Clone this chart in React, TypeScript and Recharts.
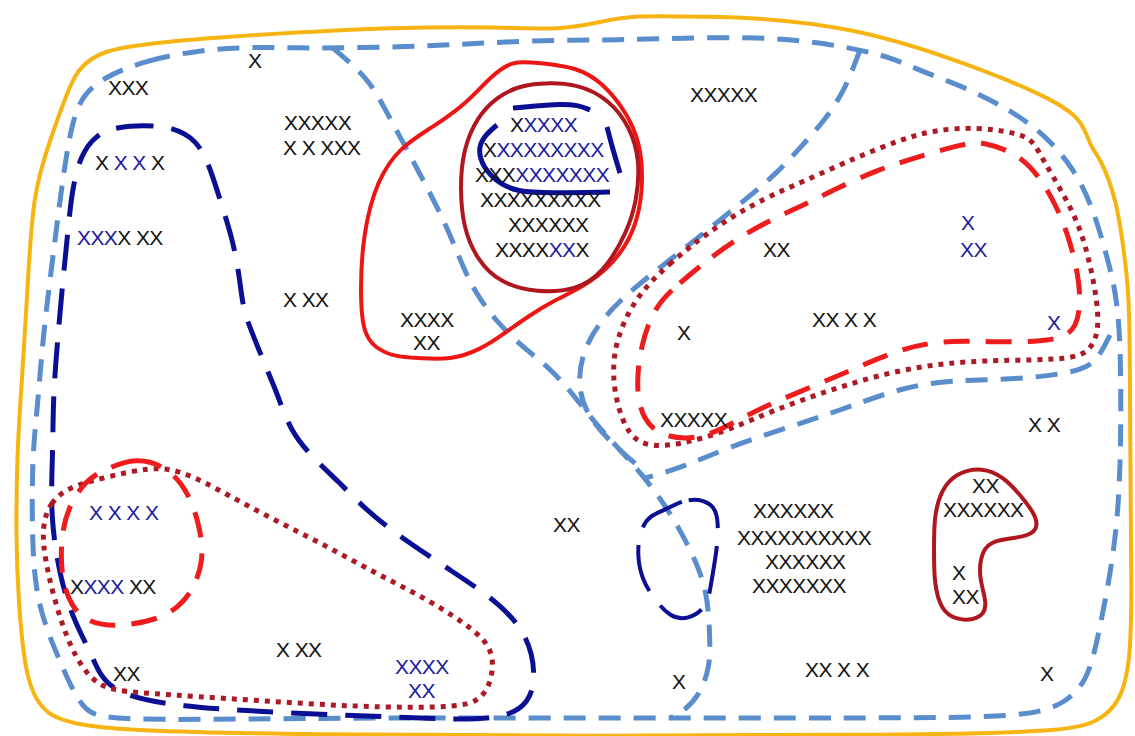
import React from "react";
import { ComposedChart, Line, Scatter, XAxis, YAxis } from "recharts";

const W = 1135;
const H = 736;

const BLACK = "#141414";
const BLUE = "#1c1c9c";

// outlines, [x, y] in picture pixels
const yellowOuter = [
  [100, 50], [160, 42], [250, 35], [400, 27], [500, 27], [560, 30], [600, 22], [633, 15],
  [700, 17], [750, 17], [850, 27], [950, 57], [1050, 97], [1083, 120], [1090, 147], [1100, 157],
  [1117, 200], [1125, 260], [1130, 300], [1130, 450], [1132, 600], [1130, 663], [1121, 700],
  [1100, 722], [1060, 732], [900, 735], [600, 736], [300, 735], [120, 730], [89, 726], [46, 718],
  [25, 682], [18, 593], [16, 540], [17, 450], [22, 380], [28, 280], [33, 193], [50, 140], [67, 93], [77, 70],
];

const lightBlueOuter = [
  [103, 77], [147, 60], [200, 50], [250, 47], [300, 48], [333, 48], [400, 47], [450, 45], [500, 42],
  [560, 40], [620, 40], [680, 38], [760, 37], [817, 42], [860, 50], [890, 57], [923, 72], [967, 88],
  [1010, 110], [1043, 133], [1073, 167], [1093, 207], [1110, 267], [1117, 300], [1121, 350],
  [1121, 470], [1115, 550], [1099, 633], [1088, 680], [1066, 703], [1029, 717], [900, 718],
  [700, 718], [500, 718], [300, 718], [107, 721], [82, 711], [61, 664], [39, 611], [32, 557],
  [32, 457], [37, 413], [43, 337], [50, 280], [60, 200], [67, 150], [77, 100],
];

const lightBlueA = [
  [333, 48], [367, 77], [383, 105], [407, 150], [427, 187], [447, 227], [463, 267], [475, 292],
  [495, 320], [520, 345], [550, 368], [572, 393], [595, 423], [620, 450], [645, 478], [665, 505],
  [683, 535], [700, 570], [708, 600], [710, 640], [710, 667], [699, 697], [681, 713], [670, 718],
];

const lightBlueB = [
  [860, 50], [845, 90], [825, 120], [800, 148], [775, 175], [745, 200], [705, 232], [670, 260],
  [635, 287], [605, 315], [585, 345], [577, 380], [585, 413], [610, 442], [645, 472],
];

const lightBlueC = [
  [1110, 335], [1100, 355], [1087, 370], [1035, 378], [979, 380], [930, 382], [886, 393],
  [841, 410], [789, 427], [729, 447], [681, 468], [645, 478],
];

const navyBig = [
  [95, 135], [117, 127], [143, 125], [173, 127], [197, 140], [210, 167], [220, 200], [233, 240],
  [240, 280], [243, 310], [255, 340], [265, 365], [277, 393], [290, 430], [310, 455], [340, 483],
  [363, 507], [393, 532], [450, 570], [500, 603], [529, 637], [536, 677], [529, 703], [507, 717],
  [464, 720], [393, 717], [286, 713], [179, 707], [107, 693], [93, 657], [75, 623], [61, 583],
  [50, 517], [53, 450], [53, 400], [57, 347], [62, 290], [67, 240], [70, 210], [73, 187], [80, 157],
];

const redLoop = [
  [513, 60], [537, 63], [577, 67], [603, 83], [627, 113], [640, 143], [643, 177], [640, 210],
  [630, 240], [610, 267], [583, 287], [555, 300], [530, 315], [505, 333], [480, 350], [450, 360],
  [420, 358], [395, 357], [375, 348], [363, 333], [360, 293], [363, 233], [377, 180], [400, 147],
  [433, 127], [467, 103], [490, 77],
];

const darkRedCircle = [
  [537, 83], [577, 83], [610, 100], [630, 127], [640, 160], [637, 200], [627, 233], [603, 273],
  [577, 290], [537, 293], [500, 283], [477, 260], [463, 227], [460, 187], [463, 150], [477, 117],
  [497, 97], [517, 87],
];

const navyTopBar = [[513, 108], [535, 106], [560, 104], [578, 105], [590, 110]];
const navyRightBar = [[607, 127], [613, 150], [620, 173]];
const navyHook = [
  [497, 125], [483, 137], [478, 150], [483, 167], [497, 182], [517, 192], [550, 193], [610, 192],
];

const redDashedRight = [
  [655, 305], [680, 283], [705, 262], [735, 240], [770, 220], [800, 207], [833, 190], [877, 170],
  [917, 157], [967, 143], [983, 142], [1017, 153], [1040, 177], [1057, 207], [1070, 240],
  [1080, 283], [1080, 313], [1072, 337], [1035, 342], [990, 342], [942, 340], [897, 350],
  [852, 370], [811, 387], [763, 407], [733, 423], [699, 440], [662, 437], [643, 420], [636, 390],
  [640, 347],
];

const dottedRight = [
  [633, 300], [667, 265], [717, 225], [767, 197], [800, 183], [857, 157], [900, 140], [933, 130],
  [977, 127], [1017, 133], [1033, 140], [1043, 160], [1063, 193], [1080, 227], [1090, 263],
  [1097, 300], [1099, 330], [1091, 350], [1072, 360], [998, 360], [942, 363], [886, 373],
  [830, 390], [774, 410], [729, 430], [681, 445], [643, 447], [625, 430], [613, 390], [613, 347],
];

const redDashedLeft = [
  [104, 470], [136, 457], [168, 467], [189, 493], [200, 527], [204, 560], [193, 590], [179, 607],
  [157, 620], [118, 627], [89, 623], [71, 607], [61, 577], [61, 537], [68, 507], [86, 480],
];

const dottedLeft = [
  [43, 523], [50, 503], [68, 487], [107, 477], [150, 467], [179, 470], [214, 487], [268, 517],
  [321, 543], [375, 573], [429, 600], [475, 630], [493, 650], [493, 677], [482, 700], [457, 708],
  [357, 707], [250, 700], [143, 693], [107, 690], [89, 677], [71, 650], [54, 600], [43, 550],
];

const navySmall = [
  [666, 510], [688, 497], [714, 503], [718, 520], [718, 540], [714, 567], [710, 590], [707, 607],
  [688, 620], [670, 617], [655, 600], [642, 580], [637, 555], [640, 530], [650, 515],
];

const mushroom = [
  [956, 473], [982, 467], [1004, 477], [1022, 497], [1037, 517], [1037, 530], [1026, 537],
  [993, 540], [982, 550], [978, 577], [989, 607], [978, 620], [956, 620], [941, 610], [934, 583],
  [934, 550], [934, 517], [941, 490],
];

// labels: left x, baseline y, runs of [text, colour key]
type Run = [string, "k" | "b"];
const labels: { x: number; y: number; runs: Run[] }[] = [
  { x: 108, y: 95, runs: [["XXX", "k"]] },
  { x: 248, y: 68, runs: [["X", "k"]] },
  { x: 284, y: 130, runs: [["XXXXX", "k"]] },
  { x: 283, y: 155, runs: [["X X XXX", "k"]] },
  { x: 95, y: 170, runs: [["X ", "k"], ["X X", "b"], [" X", "k"]] },
  { x: 77, y: 245, runs: [["XXX", "b"], ["X XX", "k"]] },
  { x: 283, y: 307, runs: [["X XX", "k"]] },
  { x: 400, y: 327, runs: [["XXXX", "k"]] },
  { x: 413, y: 350, runs: [["XX", "k"]] },
  { x: 510, y: 132, runs: [["X", "k"], ["XXXX", "b"]] },
  { x: 483, y: 157, runs: [["X", "k"], ["XXXXXXXX", "b"]] },
  { x: 475, y: 182, runs: [["XXX", "k"], ["XXXXXXX", "b"]] },
  { x: 480, y: 207, runs: [["XXXXXXXXX", "k"]] },
  { x: 508, y: 232, runs: [["XXXXXX", "k"]] },
  { x: 495, y: 257, runs: [["XXXX", "k"], ["XX", "b"], ["X", "k"]] },
  { x: 690, y: 102, runs: [["XXXXX", "k"]] },
  { x: 763, y: 257, runs: [["XX", "k"]] },
  { x: 961, y: 230, runs: [["X", "b"]] },
  { x: 960, y: 257, runs: [["XX", "b"]] },
  { x: 677, y: 340, runs: [["X", "k"]] },
  { x: 812, y: 327, runs: [["XX X X", "k"]] },
  { x: 1047, y: 330, runs: [["X", "b"]] },
  { x: 660, y: 427, runs: [["XXXXX", "k"]] },
  { x: 1028, y: 432, runs: [["X X", "k"]] },
  { x: 553, y: 532, runs: [["XX", "k"]] },
  { x: 753, y: 518, runs: [["XXXXXX", "k"]] },
  { x: 737, y: 545, runs: [["XXXXXXXXXX", "k"]] },
  { x: 765, y: 569, runs: [["XXXXXX", "k"]] },
  { x: 752, y: 593, runs: [["XXXXXXX", "k"]] },
  { x: 972, y: 493, runs: [["XX", "k"]] },
  { x: 943, y: 517, runs: [["XXXXXX", "k"]] },
  { x: 952, y: 580, runs: [["X", "k"]] },
  { x: 952, y: 604, runs: [["XX", "k"]] },
  { x: 89, y: 520, runs: [["X X X X", "b"]] },
  { x: 70, y: 594, runs: [["X", "k"], ["XXX", "b"], [" XX", "k"]] },
  { x: 276, y: 657, runs: [["X XX", "k"]] },
  { x: 113, y: 681, runs: [["XX", "k"]] },
  { x: 395, y: 674, runs: [["XXXX", "b"]] },
  { x: 408, y: 698, runs: [["XX", "b"]] },
  { x: 672, y: 689, runs: [["X", "k"]] },
  { x: 805, y: 677, runs: [["XX X X", "k"]] },
  { x: 1040, y: 681, runs: [["X", "k"]] },
];

const pts = (arr: number[][]) => arr.map(([x, y]) => ({ x, y }));

const outlines = [
  { id: "yellow", pts: yellowOuter, type: "basisClosed", stroke: "#f5b412", width: 4, dash: undefined },
  { id: "lbOuter", pts: lightBlueOuter, type: "basisClosed", stroke: "#5a8dcc", width: 5, dash: "22 13" },
  { id: "lbA", pts: lightBlueA, type: "basis", stroke: "#5a8dcc", width: 5, dash: "22 13" },
  { id: "lbB", pts: lightBlueB, type: "basis", stroke: "#5a8dcc", width: 5, dash: "22 13" },
  { id: "lbC", pts: lightBlueC, type: "basis", stroke: "#5a8dcc", width: 5, dash: "22 13" },
  { id: "navyBig", pts: navyBig, type: "basisClosed", stroke: "#0b0f94", width: 5, dash: "36 18" },
  { id: "redLoop", pts: redLoop, type: "basisClosed", stroke: "#ee1515", width: 4, dash: undefined },
  { id: "darkCircle", pts: darkRedCircle, type: "basisClosed", stroke: "#b0161e", width: 4, dash: undefined },
  { id: "navyTop", pts: navyTopBar, type: "basis", stroke: "#0b0f94", width: 5, dash: undefined },
  { id: "navyRight", pts: navyRightBar, type: "basis", stroke: "#0b0f94", width: 5, dash: undefined },
  { id: "navyHook", pts: navyHook, type: "basis", stroke: "#0b0f94", width: 5, dash: undefined },
  { id: "dottedRight", pts: dottedRight, type: "basisClosed", stroke: "#ac1a26", width: 5, dash: "5 6" },
  { id: "redDashedRight", pts: redDashedRight, type: "basisClosed", stroke: "#ee1c1c", width: 5, dash: "26 16" },
  { id: "dottedLeft", pts: dottedLeft, type: "basisClosed", stroke: "#ac1a26", width: 5, dash: "5 6" },
  { id: "redDashedLeft", pts: redDashedLeft, type: "basisClosed", stroke: "#ee1c1c", width: 5, dash: "26 16" },
  { id: "navySmall", pts: navySmall, type: "basisClosed", stroke: "#0b0f94", width: 4, dash: "48 18" },
  { id: "mushroom", pts: mushroom, type: "basisClosed", stroke: "#b0161e", width: 4, dash: undefined },
];

function LabelShape(props: any) {
  const { cx, cy, payload } = props;
  return (
    <text
      x={cx}
      y={cy}
      fontFamily="'Liberation Sans', Arial, sans-serif"
      fontSize={21}
      letterSpacing={-0.6}
      stroke="none"
      style={{ whiteSpace: "pre" }}
    >
      {payload.runs.map((r: Run, i: number) => (
        <tspan key={i} fill={r[1] === "b" ? BLUE : BLACK}>
          {r[0]}
        </tspan>
      ))}
    </text>
  );
}

export default function App() {
  return (
    <div style={{ position: "absolute", left: 0, top: 0, width: W, height: H, background: "#fff" }}>
      <ComposedChart width={W} height={H} margin={{ top: 0, right: 0, bottom: 0, left: 0 }}>
        <XAxis type="number" dataKey="x" domain={[0, W]} allowDataOverflow hide />
        <YAxis type="number" dataKey="y" domain={[0, H]} allowDataOverflow reversed hide />
        {outlines.map((o) => (
          <Line
            key={o.id}
            name={o.id}
            data={pts(o.pts)}
            dataKey="y"
            type={o.type as any}
            stroke={o.stroke}
            strokeWidth={o.width}
            strokeDasharray={o.dash}
            dot={false}
            activeDot={false}
            isAnimationActive={false}
          />
        ))}
        <Scatter data={labels} dataKey="y" shape={<LabelShape />} isAnimationActive={false} />
      </ComposedChart>
    </div>
  );
}
